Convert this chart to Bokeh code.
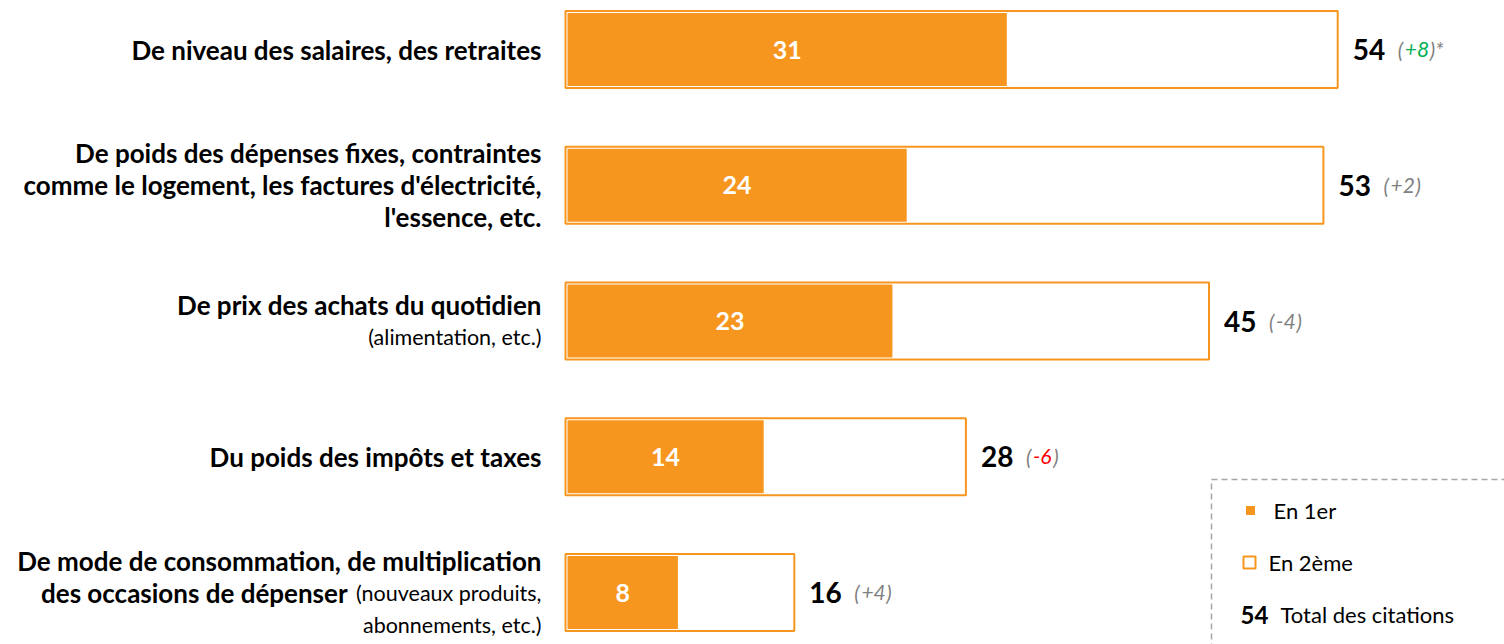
from bokeh.plotting import figure
from bokeh.models import Range1d
from bokeh.core.properties import value
from bokeh.embed import file_html
from bokeh.resources import INLINE

# ---------------- data ----------------
categories = [
    "De niveau des salaires, des retraites",
    "De poids des dépenses fixes, contraintes comme le logement, les factures d'électricité, l'essence, etc.",
    "De prix des achats du quotidien (alimentation, etc.)",
    "Du poids des impôts et taxes",
    "De mode de consommation, de multiplication des occasions de dépenser (nouveaux produits, abonnements, etc.)",
]
# label layout: lines, each a list of (text, weight) segments
label_lines = [
    [[("De niveau des salaires, des retraites", "bold")]],
    [[("De poids des dépenses fixes, contraintes", "bold")],
     [("comme le logement, les factures d'électricité,", "bold")],
     [("l'essence, etc.", "bold")]],
    [[("De prix des achats du quotidien", "bold")],
     [("(alimentation, etc.)", "normal")]],
    [[("Du poids des impôts et taxes", "bold")]],
    [[("De mode de consommation, de multiplication", "bold")],
     [("des occasions de dépenser", "bold"), ("(nouveaux produits,", "normal")],
     [("abonnements, etc.)", "normal")]],
]
en_1er = [31, 24, 23, 14, 8]
total = [54, 53, 45, 28, 16]
change = ["+8", "+2", "-4", "-6", "+4"]
change_color = ["#00B050", "#7F7F7F", "#7F7F7F", "#FF0000", "#7F7F7F"]
change_star = ["*", "", "", "", ""]
legend_labels = ["En 1er", "En 2ème", "Total des citations"]
legend_total_example = "54"

# ---------------- styling ----------------
ORANGE = "#F7961F"
FONT = "Lato"
W, H = 1504, 644
S = 14.3          # px per unit
X0 = 565          # canvas px of value 0
ROW0 = 49         # canvas px of first row centre
ROWSP = 135.75    # px between rows

def xd(px):  # image px -> data x
    return (px - X0) / S

def yd(py):  # image px -> data y
    return (py - ROW0) / ROWSP

p = figure(width=W, height=H,
           x_range=Range1d(-X0 / S, (W - X0) / S),
           y_range=Range1d((H - ROW0) / ROWSP, -ROW0 / ROWSP),
           output_backend="svg", toolbar_location=None,
           x_axis_location=None, y_axis_location=None, min_border=0)
p.grid.visible = False
p.outline_line_color = None

rows = list(range(len(categories)))
bar_h = 77 / ROWSP

# filled part (En 1er)
p.hbar(y=rows, left=0, right=en_1er, height=bar_h,
       fill_color=ORANGE, line_color="white", line_width=4)
# total outline (En 2ème)
p.hbar(y=rows, left=0, right=total, height=bar_h,
       fill_color=None, line_color=ORANGE, line_width=2)

# value inside bars
p.text(x=[v / 2 for v in en_1er], y=rows, text=[str(v) for v in en_1er],
       text_color="white", text_font=value(FONT), text_font_style="bold",
       text_font_size=value("25px"), text_align="center", text_baseline="middle")

# total labels
p.text(x=total, y=rows, text=[str(v) for v in total], x_offset=15,
       text_color="black", text_font=value(FONT), text_font_style="bold",
       text_font_size=value("28px"), text_align="left", text_baseline="middle")

# change labels, split into gray parentheses and coloured value
CH_FS = 21
cw = {"+": 0.58, "-": 0.36, "(": 0.29, ")": 0.29, "*": 0.42}
def width(s):
    return sum(cw.get(c, 0.56) for c in s) * CH_FS

for i in rows:
    base = 60
    p.text(x=[total[i]], y=[i], text=["("], x_offset=base, text_color="#7F7F7F",
           text_font=value(FONT), text_font_style="italic",
           text_font_size=value(f"{CH_FS}px"), text_align="left", text_baseline="middle")
    o = base + width("(") + 1
    p.text(x=[total[i]], y=[i], text=[change[i]], x_offset=o, text_color=change_color[i],
           text_font=value(FONT), text_font_style="italic",
           text_font_size=value(f"{CH_FS}px"), text_align="left", text_baseline="middle")
    o += width(change[i]) + 1
    p.text(x=[total[i]], y=[i], text=[")" + change_star[i]], x_offset=o, text_color="#7F7F7F",
           text_font=value(FONT), text_font_style="italic",
           text_font_size=value(f"{CH_FS}px"), text_align="left", text_baseline="middle")

# category labels
LAB_X = xd(541)
LINE_SP = 32
NORM_FS = 21.5
BOLD_FS = 26
def seg_width(s, weight):
    return len(s) * 0.455 * NORM_FS if weight == "normal" else len(s) * 0.45 * BOLD_FS

for i, lines in enumerate(label_lines):
    n = len(lines)
    for j, segs in enumerate(lines):
        yoff = (j - (n - 1) / 2) * LINE_SP
        xoff = 0
        for k in range(len(segs) - 1, -1, -1):
            txt, weight = segs[k]
            p.text(x=[LAB_X], y=[i], text=[txt], x_offset=xoff, y_offset=yoff,
                   text_color="black", text_font=value(FONT),
                   text_font_style=weight,
                   text_font_size=value(f"{BOLD_FS if weight == 'bold' else NORM_FS}px"),
                   text_align="right", text_baseline="middle")
            xoff -= seg_width(txt, weight) + 8

# legend box
p.quad(left=[xd(1211)], right=[xd(1700)], top=[yd(479)], bottom=[yd(800)],
       fill_color=None, line_color="#A6A6A6", line_dash="6 4", line_width=1.5)
p.scatter(x=[xd(1250)], y=[yd(510)], marker="square", size=9,
          fill_color=ORANGE, line_color=None)
p.scatter(x=[xd(1249)], y=[yd(562)], marker="square", size=12,
          fill_color="white", line_color=ORANGE, line_width=2)
p.text(x=[xd(1273), xd(1268), xd(1280)], y=[yd(510), yd(562), yd(614)], text=legend_labels,
       text_color="black", text_font=value(FONT), text_font_size=value("22px"),
       text_align="left", text_baseline="middle")
p.text(x=[xd(1240)], y=[yd(614)], text=[legend_total_example],
       text_color="black", text_font=value(FONT), text_font_style="bold",
       text_font_size=value("24px"), text_align="left", text_baseline="middle")

open("out.html", "w").write(file_html(p, INLINE))
